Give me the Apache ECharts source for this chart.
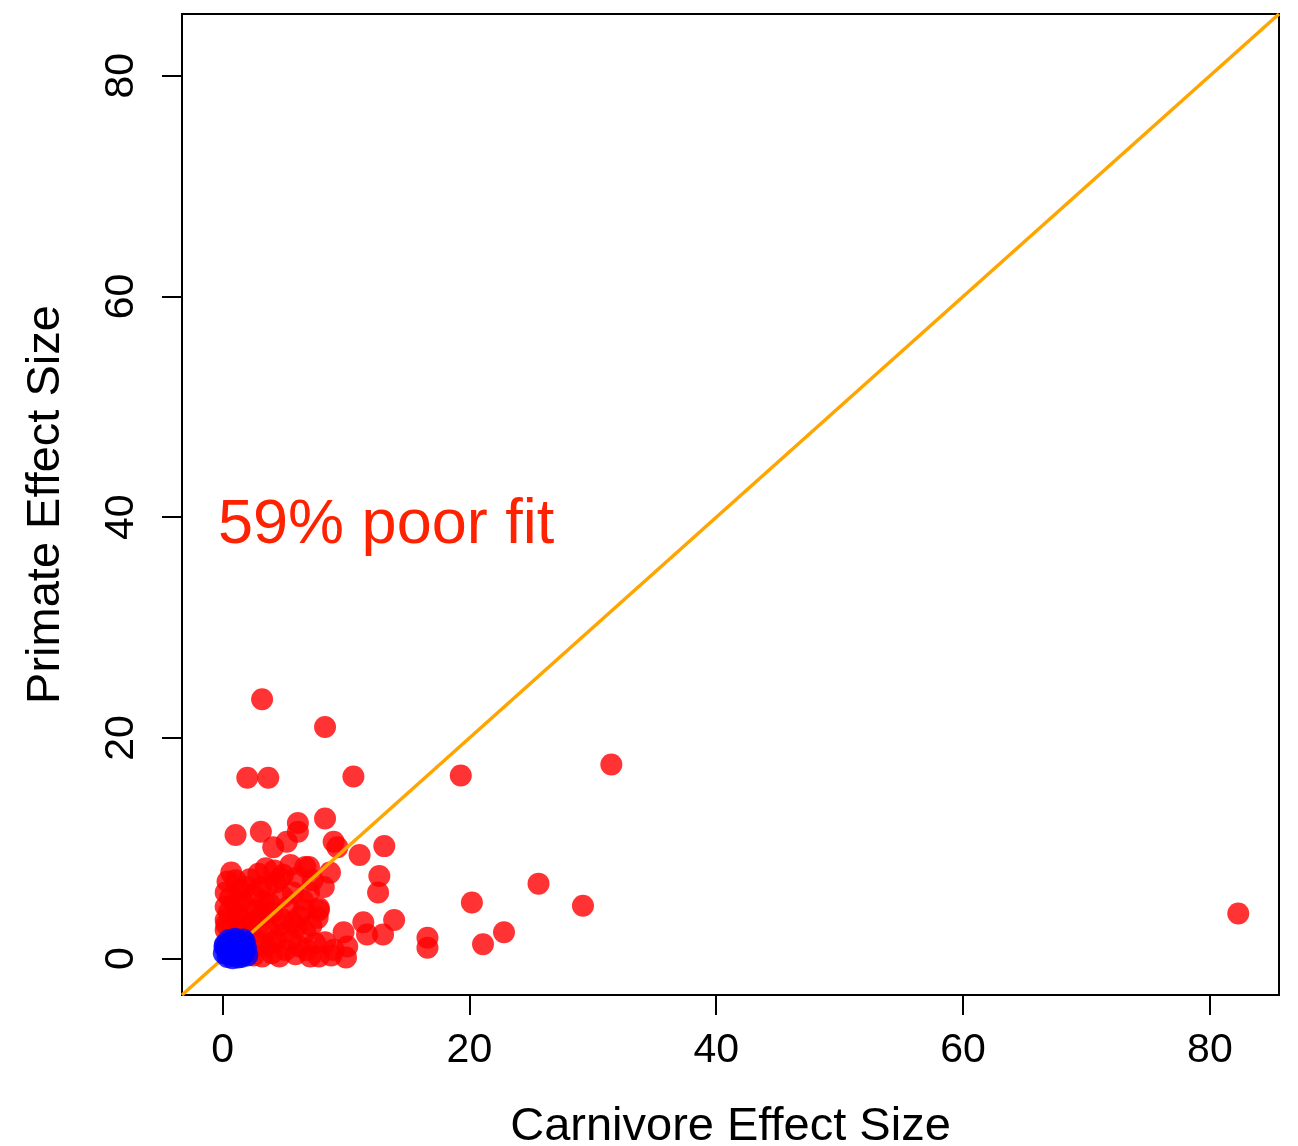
<!DOCTYPE html>
<html>
<head>
<meta charset="utf-8">
<script src="https://cdn.jsdelivr.net/npm/echarts@6/dist/echarts.min.js"></script>
<style>
  html, body { margin: 0; padding: 0; background: #fff; }
  #chart { width: 1298px; height: 1146px; }
</style>
</head>
<body>
<div id="chart"></div>
<script>
// Effect sizes per gene: [carnivore, primate]
const poorFit = [
  [3.2, 23.5], [8.3, 21.0], [2.0, 16.4], [3.7, 16.4], [10.6, 16.5], [19.3, 16.6],
  [31.5, 17.6], [82.3, 4.1], [25.6, 6.8], [29.2, 4.8], [20.2, 5.1], [22.8, 2.4],
  [21.1, 1.3], [16.6, 1.9], [16.6, 1.0], [13.9, 3.5], [13.1, 10.2], [12.7, 7.5],
  [12.6, 6.0], [13.0, 2.2], [11.4, 3.3], [11.7, 2.2], [11.1, 9.4], [9.3, 10.1],
  [9.0, 10.6], [8.3, 12.7], [6.1, 12.3], [6.1, 11.5], [3.1, 11.5], [1.05, 11.2],
  [4.1, 10.1], [5.2, 10.6], [0.7, 7.8], [3.5, 8.2], [7.0, 8.3], [8.7, 7.8],
  [8.2, 6.5], [4.7, 7.3], [6.1, 7.4], [3.6, 6.5], [7.8, 4.6], [7.7, 3.7],
  [9.8, 2.4], [10.1, 1.1], [10.0, 0.1], [7.1, 0.2], [9.0, 0.8], [8.3, 1.5],
  [1.05, 7.1], [4.9, 7.6], [6.7, 8.3], [7.3, 7.1], [3.1, 6.5], [0.25, 6.0],
  [0.25, 4.7], [0.25, 3.5], [0.25, 2.6], [1.6, 5.3], [2.7, 4.4], [4.0, 4.2],
  [5.3, 4.7], [6.2, 3.8], [5.7, 6.0], [4.9, 5.6], [2.4, 3.3], [3.7, 2.6],
  [5.1, 2.4], [6.7, 2.4], [7.5, 1.4], [6.2, 1.1], [5.1, 0.8], [4.0, 0.5],
  [3.2, 0.2], [2.7, 1.7], [7.8, 0.2], [7.8, 4.4], [1.9, 6.5], [4.3, 6.9],
  [3.3, 5.2], [1.2, 4.0], [1.3, 2.6], [4.3, 1.7], [5.7, 3.3], [0.6, 5.5],
  [2.2, 2.2], [3.0, 3.8], [0.9, 1.8], [2.0, 0.6], [1.7, 3.4], [4.6, 3.0],
  [0.4, 7.0], [1.4, 6.2], [2.5, 5.8], [3.8, 5.0], [6.5, 5.3], [7.0, 6.0],
  [0.5, 4.2], [1.9, 4.6], [3.4, 4.6], [4.8, 3.6], [6.0, 2.9], [7.2, 3.0],
  [0.3, 3.1], [1.6, 2.9], [2.9, 2.9], [3.9, 1.4], [5.5, 1.7], [6.8, 0.8],
  [2.5, 0.3], [3.5, 1.1], [4.6, 0.2], [5.9, 0.4], [8.8, 0.3], [2.2, 7.2],
  [5.5, 8.5], [2.9, 7.7], [6.6, 4.4], [4.2, 8.0], [1.0, 5.0], [1.8, 1.3]
];

const goodFit = [
  [0.1, 0.5], [0.2, 1.3], [0.4, 0.15], [0.5, 1.7], [0.6, 0.8], [0.7, 1.45],
  [0.8, 0.05], [0.9, 1.0], [1.0, 1.8], [1.1, 0.4], [1.2, 1.3], [1.3, 0.7],
  [1.4, 1.6], [1.5, 0.15], [1.6, 1.1], [1.75, 0.5], [1.9, 0.95], [0.3, 0.9],
  [0.55, 0.4], [1.05, 1.55], [1.25, 0.1], [1.45, 1.0], [0.75, 0.55], [0.95, 1.3],
  [1.8, 1.5], [2.0, 0.3], [0.15, 1.1], [1.65, 1.75]
];

// Shared extent for both axes, so the identity line runs corner to corner
const axisMin = -3.29;
const axisMax = 85.6;
const tickValues = [0, 20, 40, 60, 80];
const identityLine = [[axisMin, axisMin], [axisMax, axisMax]];

const fontFamily = '"Liberation Sans", Arial, Helvetica, sans-serif';

function axisCommon(name, rotate, margin, nameGap) {
  return {
    type: 'value',
    min: axisMin,
    max: axisMax,
    name: name,
    nameLocation: 'middle',
    nameGap: nameGap,
    nameTextStyle: { fontSize: 47, color: '#000', fontFamily: fontFamily },
    splitLine: { show: false },
    axisLine: { show: false, onZero: false },
    axisTick: {
      show: true, length: 20, inside: false,
      customValues: tickValues,
      lineStyle: { color: '#000', width: 2 }
    },
    axisLabel: {
      customValues: tickValues,
      fontSize: 41, color: '#000', fontFamily: fontFamily,
      rotate: rotate, margin: margin
    }
  };
}

const chart = echarts.init(document.getElementById('chart'), null, { renderer: 'canvas' });
chart.setOption({
  animation: false,
  backgroundColor: '#fff',
  grid: {
    left: 182, top: 14, right: 19, bottom: 151,
    containLabel: false,
    outerBoundsMode: 'none',
    show: true, borderColor: '#000', borderWidth: 2, backgroundColor: 'transparent'
  },
  xAxis: axisCommon('Carnivore Effect Size', 0, 35, 109),
  yAxis: axisCommon('Primate Effect Size', 90, 40, 112),
  graphic: [{
    type: 'text',
    x: 218, y: 526,
    style: {
      text: '59% poor fit',
      font: '63px ' + fontFamily,
      fill: '#ff2200',
      verticalAlign: 'middle'
    },
    z: 10
  }],
  series: [
    {
      type: 'scatter',
      data: poorFit,
      symbol: 'circle',
      symbolSize: 22,
      itemStyle: { color: '#ff0000', opacity: 0.8 },
      z: 2
    },
    {
      type: 'line',
      data: identityLine,
      symbol: 'none',
      lineStyle: { color: '#ffa500', width: 3.5 },
      z: 3
    },
    {
      type: 'scatter',
      data: goodFit,
      symbol: 'circle',
      symbolSize: 22,
      itemStyle: { color: '#0000ff', opacity: 0.8 },
      z: 4
    }
  ]
});
</script>
</body>
</html>
